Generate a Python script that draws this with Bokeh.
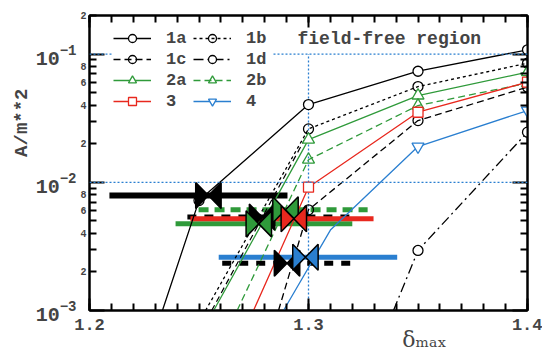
import math
from bokeh.plotting import figure
from bokeh.models import (LogAxis, LinearAxis, FixedTicker, Range1d, Legend, LegendItem,
                          Label, Span, Title, CustomJSTickFormatter)
from bokeh.embed import file_html
from bokeh.resources import INLINE

# ---------------- data ----------------
x_1a = [1.2333, 1.25, 1.30, 1.35, 1.40]
y_1a = [0.001, 0.0072, 0.0404, 0.0735, 0.108]
m_1a = [0, 1, 1, 1, 1]

x_1b = [1.253, 1.30, 1.35, 1.40]
y_1b = [0.001, 0.0261, 0.0558, 0.0849]
m_1b = [0, 1, 1, 1]

x_1c = [1.2863, 1.30, 1.35, 1.40]
y_1c = [0.001, 0.0061, 0.0303, 0.0552]
m_1c = [0, 1, 1, 1]

x_1d = [1.3388, 1.35, 1.40]
y_1d = [0.001, 0.00294, 0.0246]
m_1d = [0, 1, 1]

x_2a = [1.2567, 1.30, 1.35, 1.40]
y_2a = [0.001, 0.0215, 0.0475, 0.0722]
m_2a = [0, 1, 1, 1]

x_2b = [1.2674, 1.30, 1.35, 1.40]
y_2b = [0.001, 0.0150, 0.0397, 0.0593]
m_2b = [0, 1, 1, 1]

x_3 = [1.2749, 1.30, 1.35, 1.40]
y_3 = [0.001, 0.00916, 0.0352, 0.0604]
m_3 = [0, 1, 1, 1]

x_4 = [1.2886, 1.31, 1.35, 1.40]
y_4 = [0.001, 0.00424, 0.019, 0.0363]
m_4 = [0, 0, 1, 1]

# unlabeled black dashed curve running beside 1b
x_extra = [1.2558, 1.30]
y_extra = [0.001, 0.0245]

# horizontal range bars with bow-tie centres
bar_y = [0.0079, 0.00535, 0.00474, 0.0061, 0.00519, 0.00234, 0.0026]
bar_x0 = [1.2091, 1.2447, 1.2393, 1.2498, 1.2461, 1.2606, 1.2590]
bar_x1 = [1.2904, 1.3215, 1.3200, 1.3270, 1.3297, 1.3200, 1.3405]
bar_xc = [1.2543, 1.2788, 1.2773, 1.2895, 1.2933, 1.2902, 1.2986]
bar_col = ["black", "black", "green", "green", "red", "black", "blue"]
bar_dash = ["solid", "dashed", "solid", "dashed", "solid", "dashed", "solid"]

# reference lines
ref_x = 1.3
ref_y = [0.01, 0.1]

# axis ticks / labels
x_major = [1.2, 1.3, 1.4]
x_label_pos = [1.353]
y_decades = [1e-3, 1e-2, 1e-1]
y_minor_labels = [2, 4, 6, 8]

# ---------------- styling ----------------
COL = {"black": "#000000", "green": "#2f9a3a", "red": "#e8281e", "blue": "#2a7fd0"}
MONO = "Liberation Mono"

p = figure(frame_width=438, frame_height=295,
           x_range=Range1d(1.2, 1.4), y_range=Range1d(1e-3, 2e-1),
           y_axis_type="log", output_backend="svg", toolbar_location=None,
           min_border_left=89, min_border_right=15, min_border_top=15, min_border_bottom=40)
p.grid.visible = False
p.outline_line_color = "black"
p.outline_line_width = 2
p.background_fill_color = "white"
p.border_fill_color = "white"

x_minor = [round(1.2 + 0.01 * i, 2) for i in range(21)]
y_minor = []
for d in y_decades:
    for k in range(2, 10):
        if d * k <= 0.2 + 1e-12:
            y_minor.append(d * k)


def hide_labels(ax):
    ax.major_label_text_font_size = "1px"
    ax.major_label_text_alpha = 0
    ax.major_label_standoff = 0


def no_ticks(ax):
    ax.major_tick_in = 0
    ax.major_tick_out = 0
    ax.minor_tick_in = 0
    ax.minor_tick_out = 0
    ax.axis_line_color = None
    ax.major_tick_line_color = None
    ax.minor_tick_line_color = None


def tick_style(ax, major_len, minor_len):
    ax.major_tick_in = major_len
    ax.major_tick_out = 0
    ax.minor_tick_in = minor_len
    ax.minor_tick_out = 0
    ax.major_tick_line_width = 2
    ax.minor_tick_line_width = 2
    ax.axis_line_width = 2
    ax.major_label_text_font = MONO
    ax.major_label_text_font_style = "bold"


# bottom axis with labels
bx_ax = p.xaxis[0]
bx_ax.ticker = FixedTicker(ticks=x_major, minor_ticks=x_minor)
tick_style(bx_ax, 12, 7)
bx_ax.major_label_text_font_size = "17px"
bx_ax.major_label_standoff = 8

# x-axis title as a tick label of an extra, tickless axis
xl_ax = LinearAxis(ticker=FixedTicker(ticks=x_label_pos, minor_ticks=[]),
                   formatter=CustomJSTickFormatter(code="return '\\u03b4\\u2098\\u2090\\u2093';"))
no_ticks(xl_ax)
xl_ax.major_label_text_font = "DejaVu Serif"
xl_ax.major_label_text_font_size = "22px"
xl_ax.major_label_standoff = -6
p.add_layout(xl_ax, "below")

# top axis (ticks only)
top_ax = LinearAxis(ticker=FixedTicker(ticks=x_major, minor_ticks=x_minor))
tick_style(top_ax, 12, 7)
hide_labels(top_ax)
p.add_layout(top_ax, "above")

# left axis: ticks only
ly_ax = p.yaxis[0]
ly_ax.ticker = FixedTicker(ticks=y_decades, minor_ticks=y_minor)
tick_style(ly_ax, 15, 7)
hide_labels(ly_ax)

# left axis: small mantissa labels 2,4,6,8
minor_lab_ticks = [d * k for d in y_decades for k in y_minor_labels if d * k <= 0.2 + 1e-12]
ml_ax = LogAxis(ticker=FixedTicker(ticks=minor_lab_ticks, minor_ticks=[]),
                formatter=CustomJSTickFormatter(code="""
                    const e = Math.floor(Math.log10(tick) + 1e-9);
                    return String(Math.round(tick / Math.pow(10, e)));"""))
no_ticks(ml_ax)
ml_ax.major_label_text_font = MONO
ml_ax.major_label_text_font_style = "bold"
ml_ax.major_label_text_font_size = "10px"
ml_ax.major_label_standoff = 3
p.add_layout(ml_ax, "left")

# left axis: decade labels
dl_ax = LogAxis(ticker=FixedTicker(ticks=y_decades, minor_ticks=[]))
no_ticks(dl_ax)
dl_ax.major_label_text_font = MONO
dl_ax.major_label_text_font_style = "bold"
dl_ax.major_label_text_font_size = "20px"
dl_ax.major_label_standoff = 1
p.add_layout(dl_ax, "left")

p.add_layout(Title(text="A/m**2", align="right", offset=73, text_font=MONO,
                   text_font_style="bold", text_font_size="19px", standoff=0), "left")

# right axis (ticks only)
right_ax = LogAxis(ticker=FixedTicker(ticks=y_decades, minor_ticks=y_minor))
tick_style(right_ax, 15, 7)
hide_labels(right_ax)
p.add_layout(right_ax, "right")

# reference dotted lines
for yv in ref_y:
    p.add_layout(Span(location=yv, dimension="width", line_color="#2a7fd0",
                      line_dash="2 2", line_width=1.3))
p.segment(x0=[ref_x], y0=[1e-3], x1=[ref_x], y1=[ref_y[1]], line_color="#2a7fd0",
          line_dash="2 2", line_width=1.3)

# range bars
for i in range(len(bar_y)):
    dash = "solid" if bar_dash[i] == "solid" else ("10 6" if bar_col[i] == "green" else "9 8")
    p.segment(x0=[bar_x0[i]], y0=[bar_y[i]], x1=[bar_x1[i]], y1=[bar_y[i]],
              line_color=COL[bar_col[i]], line_width=6 if i == 0 else 5, line_dash=dash)

# extra unlabeled curve
p.line(x_extra, y_extra, line_color="black", line_width=1.2, line_dash="6 4")

# series
series = [
    ("1a", x_1a, y_1a, m_1a, "black", "solid", "circle", "white"),
    ("1b", x_1b, y_1b, m_1b, "black", "3 3", "circle", None),
    ("1c", x_1c, y_1c, m_1c, "black", "7 4", "circle", None),
    ("1d", x_1d, y_1d, m_1d, "black", "10 4 2 4", "circle", "white"),
    ("2a", x_2a, y_2a, m_2a, "green", "solid", "triangle", "white"),
    ("2b", x_2b, y_2b, m_2b, "green", "7 4", "triangle", None),
    ("3", x_3, y_3, m_3, "red", "solid", "square", "white"),
    ("4", x_4, y_4, m_4, "blue", "solid", "inverted_triangle", "white"),
]
items = {}
for lab, xs, ys, ms, col, dash, mk, fill in series:
    c = COL[col]
    ln = p.line(xs, ys, line_color=c, line_width=1.3, line_dash=dash)
    mx = [x for x, m in zip(xs, ms) if m]
    my = [y for y, m in zip(ys, ms) if m]
    size = 10 if mk in ("circle", "square") else 12
    sc = p.scatter(mx, my, marker=mk, size=size, line_color=c, line_width=1.3,
                   fill_color=fill if fill else "white", fill_alpha=1 if fill else 0)
    items[lab] = [ln, sc]

# bow ties
hw = 0.0058
f = 10 ** (13 / 128.2)
bxs, bys, bcs = [], [], []
for i in range(len(bar_y)):
    cx, cy = bar_xc[i], bar_y[i]
    for side in (-1, 1):
        bxs.append([cx + side * hw, cx + side * hw, cx])
        bys.append([cy * f, cy / f, cy])
        bcs.append(COL[bar_col[i]])
p.patches(bxs, bys, fill_color=bcs, line_color="black", line_width=1.5)

order = ["1a", "1c", "2a", "3", "1b", "1d", "2b", "4"]
legend = Legend(items=[LegendItem(label=k, renderers=items[k]) for k in order],
                ncols=2, location=(24, 199), padding=0, margin=0, spacing=1,
                glyph_width=38, glyph_height=20, label_height=20, label_width=26,
                label_standoff=15,
                label_text_font=MONO, label_text_font_style="bold", label_text_font_size="17px",
                background_fill_color="white", background_fill_alpha=1,
                border_line_color=None)
p.add_layout(legend)

p.add_layout(Label(x=208, y=272, x_units="screen", y_units="screen", text="field-free region",
                   text_font=MONO, text_font_style="bold", text_font_size="18px",
                   text_baseline="middle", text_align="left"))

open("out.html", "w").write(file_html(p, INLINE))
